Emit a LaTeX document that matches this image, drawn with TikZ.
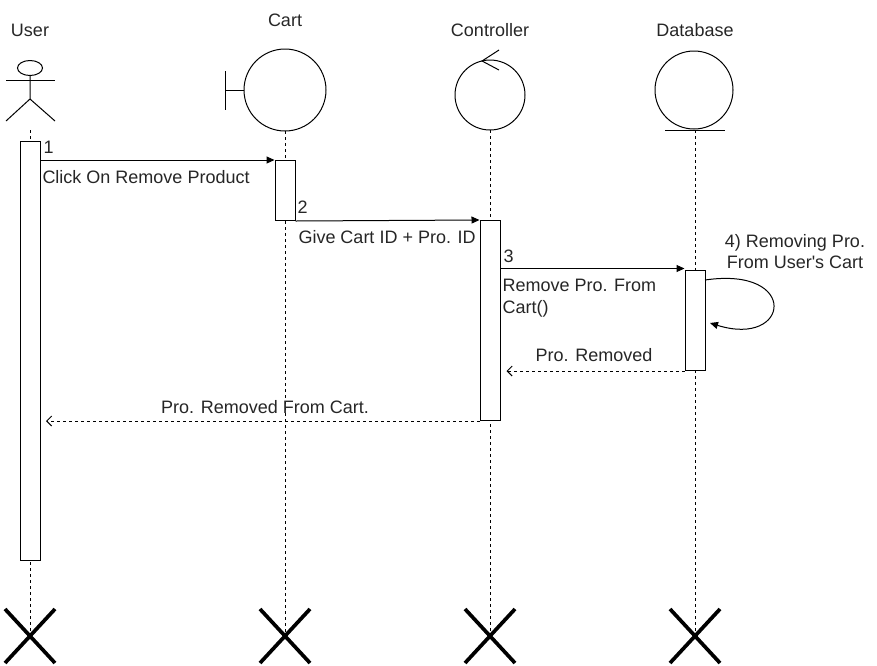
\documentclass[tikz,border=0pt]{standalone}
\usepackage{fontspec}
\setmainfont{Liberation Sans}[Ligatures=TeXOff]
\usetikzlibrary{arrows.meta,calc}
\begin{document}
\begin{tikzpicture}[x=1pt,y=-1pt,
  line width=1pt,
  lbl/.style={font=\fontsize{18}{21}\selectfont, inner sep=0pt, text=black!85},
  life/.style={dash pattern=on 3pt off 3pt, line width=0.8pt},
  bar/.style={draw, fill=white, minimum width=20pt, inner sep=0pt, line width=1pt},
  sync/.style={-{Triangle[length=8pt,width=7pt]}},
  ret/.style={dash pattern=on 3pt off 3pt, -{Straight Barb[length=5pt,width=10pt]}},
  killx/.style={line width=3.7pt}
]
\useasboundingbox (0,0) rectangle (877,665);

% header labels
\node[lbl, anchor=base] (tUser) at (30,36) {User};
\node[lbl, anchor=base] (tCart) at (285,26) {Cart};
\node[lbl, anchor=base] (tCtrl) at (490,36) {Controller};
\node[lbl, anchor=base] (tDb) at (695,36) {Database};

% user stick figure
\draw (30,68) ellipse [x radius=12.5pt, y radius=7.5pt];
\draw (6,80) -- (55,80);
\draw (30,75.5) -- (30,99) -- (6,121);
\draw (30,99) -- (55,121);

% cart boundary
\draw (285,90) circle [radius=41pt];
\draw (225,71) -- (225,110);
\draw (225,90) -- (244,90);

% controller
\draw (490,95) circle [radius=35pt];
\draw (499,50) -- (482,61) -- (499,70);

% database entity
\draw (694,90) circle [radius=39pt];
\draw (665,130) -- (725,130);

% lifelines and destruction marks
\coordinate (uTop) at (30,130);
\coordinate (cTop) at (285,131);
\coordinate (kTop) at (490,130);
\coordinate (dTop) at (695,130);
\coordinate (uEnd) at (30,636);
\coordinate (cEnd) at (285,636);
\coordinate (kEnd) at (490,636);
\coordinate (dEnd) at (695,636);
\foreach \a/\b in {uTop/uEnd,cTop/cEnd,kTop/kEnd,dTop/dEnd}{
  \draw[life] (\a) -- (\b);
  \draw[killx] ($(\b)+(-25,-27)$) -- ($(\b)+(25,27)$);
  \draw[killx] ($(\b)+(-25,27)$) -- ($(\b)+(25,-27)$);
}

% activation bars
\node[bar, minimum height=419pt, anchor=north] (ub) at (30.5,141) {};
\node[bar, minimum height=60pt, anchor=north] (cb) at (285,160) {};
\node[bar, minimum height=200pt, anchor=north] (kb) at (490,220) {};
\node[bar, minimum height=100pt, anchor=north] (db) at (695,270) {};

% message 1
\draw[sync] (ub.east |- cb.north west) -- (cb.north west);
\node[lbl, anchor=base west] (n1) at (43,153) {1};
\node[lbl, anchor=base west] (m1) at (42,183) {Click On Remove Product};

% message 2
\draw[sync] (cb.south east) -- (kb.north west);
\node[lbl, anchor=base west] (n2) at (297,213) {2};
\node[lbl, anchor=base west] (m2) at (298,243) {Give Cart ID + Pro. ID};

% message 3
\coordinate (m3y) at (600,268.5);
\draw[sync] (kb.east |- m3y) -- (db.west |- m3y);
\node[lbl, anchor=base west] (n3) at (503,262) {3};
\node[lbl, anchor=base west] (m3a) at (502,291) {Remove Pro. From};
\node[lbl, anchor=base west] (m3b) at (502,313) {Cart()};

% self message 4
\coordinate (s1) at (705,280);
\coordinate (s2) at (710,323);
\draw[sync] (s1) .. controls (800,266) and (790,348) .. (s2);
\node[lbl, anchor=base] (m4a) at (795,247) {4) Removing Pro.};
\node[lbl, anchor=base] (m4b) at (795,268) {From User's Cart};

% returns
\draw[ret, shorten >=6pt] (db.south west) -- (kb.east |- db.south west);
\node[lbl, anchor=base] (r1) at (594,361) {Pro. Removed};
\draw[ret, shorten >=5pt] (kb.south west) -- (ub.east |- kb.south west);
\node[lbl, anchor=base] (r2) at (265,413) {Pro. Removed From Cart.};
\end{tikzpicture}
\end{document}
